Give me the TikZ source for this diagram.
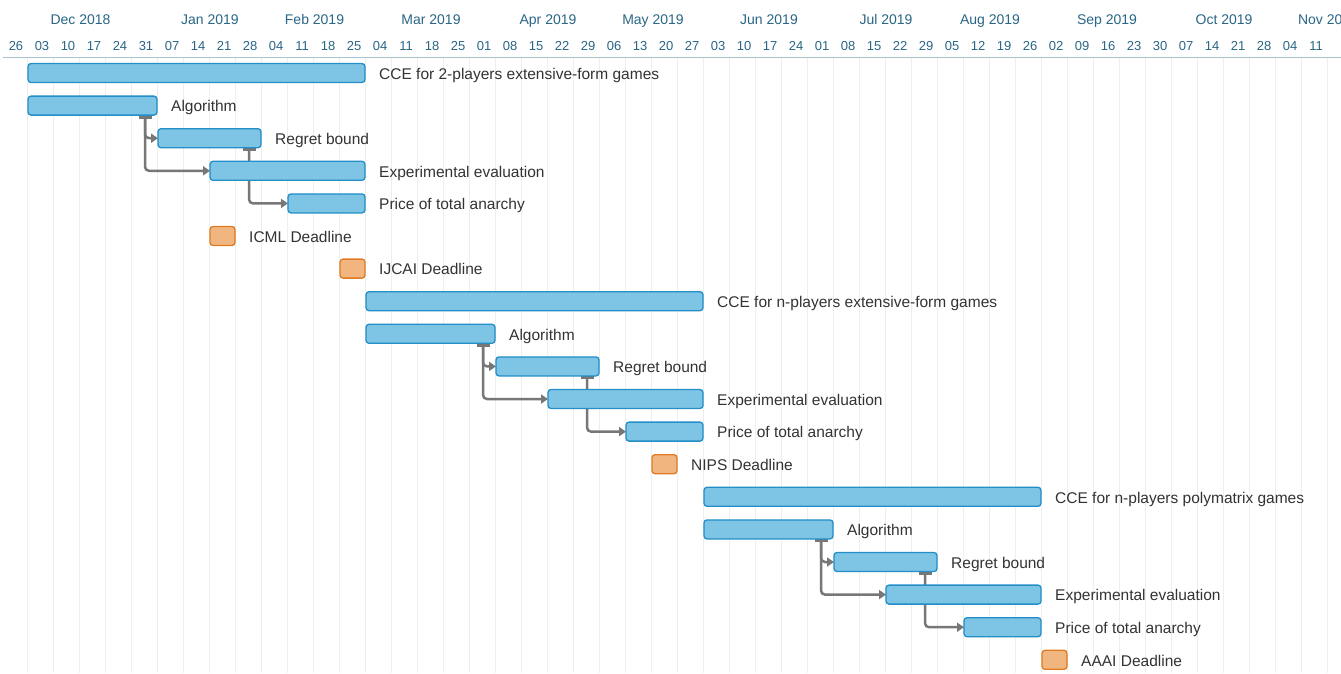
\documentclass[tikz,border=0pt]{standalone}
\usepackage{fontspec}
\setmainfont{Liberation Sans}
\usetikzlibrary{arrows.meta}
\definecolor{hdr}{RGB}{42,102,134}
\definecolor{txt}{RGB}{51,51,51}
\definecolor{barfill}{RGB}{126,196,228}
\definecolor{barline}{RGB}{35,142,200}
\definecolor{dlfill}{RGB}{241,182,128}
\definecolor{dlline}{RGB}{224,123,35}
\definecolor{conn}{RGB}{119,119,119}
\definecolor{gridc}{RGB}{238,238,238}
\definecolor{sepc}{RGB}{169,193,209}
\pgfdeclarelayer{gridlayer}
\pgfdeclarelayer{connlayer}
\pgfsetlayers{gridlayer,connlayer,main}
\tikzset{
  bar/.style={draw=barline, fill=barfill, line width=1.3pt, rounded corners=3pt,
    minimum height=19pt, inner sep=0pt, outer sep=0pt},
  deadline/.style={draw=dlline, fill=dlfill, line width=1.3pt, rounded corners=3pt,
    minimum height=19pt, inner sep=0pt, outer sep=0pt},
  lbl/.style={anchor=base west, inner sep=0pt, text=txt, font=\fontsize{15.5}{18}\selectfont},
  month/.style={anchor=base, inner sep=0pt, text=hdr, font=\fontsize{14}{17}\selectfont},
  week/.style={anchor=base, inner sep=0pt, text=hdr, font=\fontsize{13}{16}\selectfont},
  dep/.style={draw=conn, line width=2.5pt, rounded corners=4pt,
    -{Triangle[length=7pt,width=9pt]}},
  depcap/.style={draw=conn, line width=3pt},
}
\newcommand\tsk[6]{%
  \node[#2, minimum width={#4-#3-1}, anchor=west] (#1) at ({#3+1},{73+32.6*#5}) {};
  \node[lbl] (#1-l) at ([xshift=14pt,yshift=-6.3pt]#1.east) {#6};
}
\newcommand\depon[2]{%
  \draw[depcap] ([xshift=-18.5pt,yshift=-2pt]#1.south east) -- ([xshift=-5.5pt,yshift=-2pt]#1.south east);
  \draw[dep] ([xshift=-12pt]#1.south east) |- (#2.west);
}
\begin{document}
\begin{tikzpicture}[x=1pt,y=-1pt]
\path[use as bounding box] (0,0) rectangle (1341,673);
\begin{pgfonlayer}{gridlayer}
  \fill[white] (0,0) rectangle (1341,673);
  \foreach \k in {1,...,51} {
    \draw[gridc, line width=1pt] ({1+26*\k},57) -- ({1+26*\k},673);
  }
  \draw[sepc, line width=1pt] (3,57) -- (1341,57);
\end{pgfonlayer}
% month labels
\node[month] (m1) at (80.5,24) {Dec 2018};
\node[month] (m2) at (210,24) {Jan 2019};
\node[month] (m3) at (314.5,24) {Feb 2019};
\node[month] (m4) at (431,24) {Mar 2019};
\node[month] (m5) at (548,24) {Apr 2019};
\node[month] (m6) at (653,24) {May 2019};
\node[month] (m7) at (769,24) {Jun 2019};
\node[month] (m8) at (886,24) {Jul 2019};
\node[month] (m9) at (990,24) {Aug 2019};
\node[month] (m10) at (1107,24) {Sep 2019};
\node[month] (m11) at (1224,24) {Oct 2019};
\node[month] (m12) at (1328,24) {Nov 2019};
% week labels
\foreach \d [count=\i from 0] in {26,03,10,17,24,31,07,14,21,28,04,11,18,25,04,11,18,25,01,08,15,22,29,06,13,20,27,03,10,17,24,01,08,15,22,29,05,12,19,26,02,09,16,23,30,07,14,21,28,04,11} {
  \node[week] (w\i) at ({16+26*\i},50) {\d};
}
% group 1
\tsk{ga}{bar}{27}{365}{0}{CCE for 2-players extensive-form games}
\tsk{gaA}{bar}{27}{157}{1}{Algorithm}
\tsk{gaR}{bar}{157}{261}{2}{Regret bound}
\tsk{gaE}{bar}{209}{365}{3}{Experimental evaluation}
\tsk{gaP}{bar}{287}{365}{4}{Price of total anarchy}
\tsk{icml}{deadline}{209}{235}{5}{ICML Deadline}
\tsk{ijcai}{deadline}{339}{365}{6}{IJCAI Deadline}
% group 2
\tsk{gb}{bar}{365}{703}{7}{CCE for n-players extensive-form games}
\tsk{gbA}{bar}{365}{495}{8}{Algorithm}
\tsk{gbR}{bar}{495}{599}{9}{Regret bound}
\tsk{gbE}{bar}{547}{703}{10}{Experimental evaluation}
\tsk{gbP}{bar}{625}{703}{11}{Price of total anarchy}
\tsk{nips}{deadline}{651}{677}{12}{NIPS Deadline}
% group 3
\tsk{gc}{bar}{703}{1041}{13}{CCE for n-players polymatrix games}
\tsk{gcA}{bar}{703}{833}{14}{Algorithm}
\tsk{gcR}{bar}{833}{937}{15}{Regret bound}
\tsk{gcE}{bar}{885}{1041}{16}{Experimental evaluation}
\tsk{gcP}{bar}{963}{1041}{17}{Price of total anarchy}
\tsk{aaai}{deadline}{1041}{1067}{18}{AAAI Deadline}
% dependencies
\begin{pgfonlayer}{connlayer}
  \depon{gaA}{gaR}
  \depon{gaA}{gaE}
  \depon{gaR}{gaP}
  \depon{gbA}{gbR}
  \depon{gbA}{gbE}
  \depon{gbR}{gbP}
  \depon{gcA}{gcR}
  \depon{gcA}{gcE}
  \depon{gcR}{gcP}
\end{pgfonlayer}
\end{tikzpicture}
\end{document}
